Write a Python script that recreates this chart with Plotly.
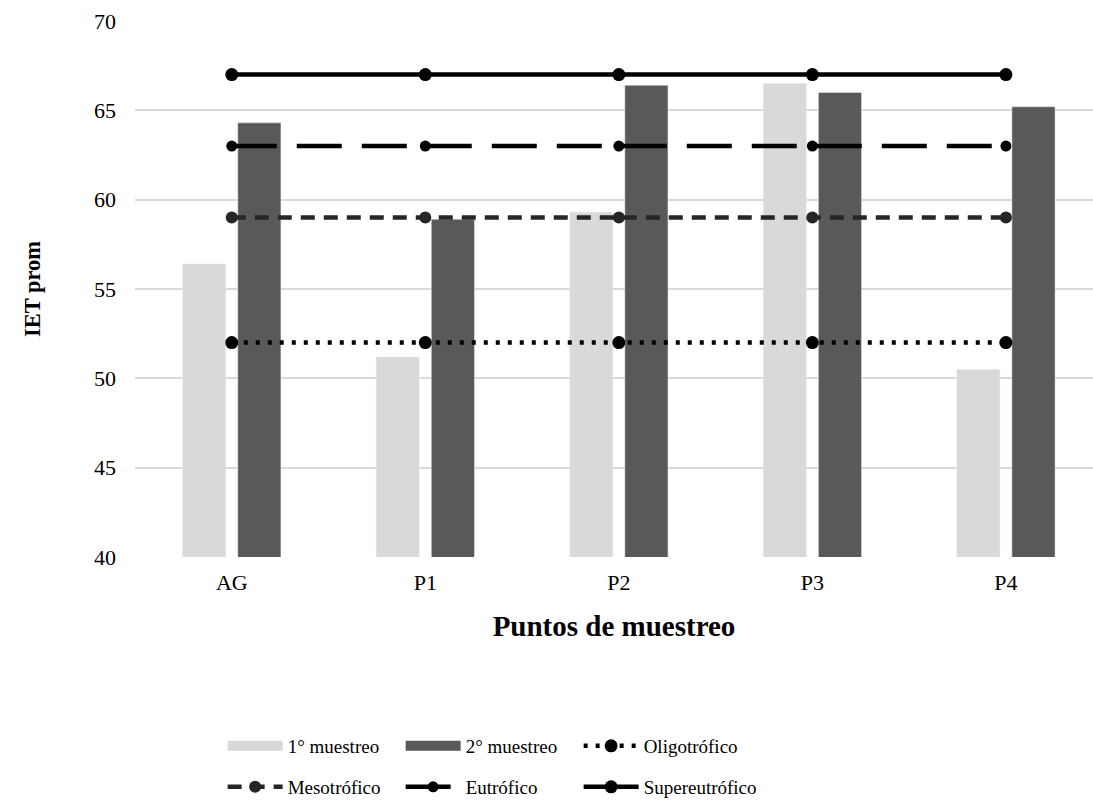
import plotly.graph_objects as go

categories = ["AG", "P1", "P2", "P3", "P4"]
muestreo1 = [56.4, 51.2, 59.3, 66.5, 50.5]
muestreo2 = [64.3, 58.9, 66.4, 66.0, 65.2]
oligotrofico = [52, 52, 52, 52, 52]
mesotrofico = [59, 59, 59, 59, 59]
eutrofico = [63, 63, 63, 63, 63]
supereutrofico = [67, 67, 67, 67, 67]

FONT = "Liberation Serif"
LIGHT = "#d9d9d9"
DARK = "#595959"

fig = go.Figure()
fig.add_trace(go.Bar(x=categories, y=muestreo1, name="1° muestreo", marker_color=LIGHT,
                     showlegend=False))
fig.add_trace(go.Bar(x=categories, y=muestreo2, name="2° muestreo", marker_color=DARK,
                     showlegend=False))

# legend stand-ins for bars (wide rectangles)
fig.add_trace(go.Scatter(x=[None], y=[None], mode="lines", name="1° muestreo",
                         line=dict(color=LIGHT, width=10), legend="legend"))
fig.add_trace(go.Scatter(x=[None], y=[None], mode="lines", name="2° muestreo",
                         line=dict(color=DARK, width=10), legend="legend"))

fig.add_trace(go.Scatter(x=categories, y=oligotrofico, name="Oligotrófico", mode="lines+markers",
                         line=dict(color="#000000", width=4.5, dash="4px,8px"),
                         marker=dict(size=13, color="#000000"), legend="legend"))
fig.add_trace(go.Scatter(x=categories, y=mesotrofico, name="Mesotrófico", mode="lines+markers",
                         line=dict(color="#262626", width=4.5, dash="14px,9px"),
                         marker=dict(size=12, color="#262626"), legend="legend2"))
fig.add_trace(go.Scatter(x=categories, y=eutrofico, name="Eutrófico", mode="lines+markers",
                         line=dict(color="#000000", width=4.5, dash="45px,20px"),
                         marker=dict(size=11, color="#000000"), legend="legend2"))
fig.add_trace(go.Scatter(x=categories, y=supereutrofico, name="Supereutrófico", mode="lines+markers",
                         line=dict(color="#000000", width=4.5),
                         marker=dict(size=13, color="#000000"), legend="legend2"))

legend_common = dict(orientation="h", xanchor="left", yanchor="middle",
                     xref="container", yref="container",
                     font=dict(family=FONT, size=19, color="#000000"),
                     entrywidth=108, entrywidthmode="pixels", itemwidth=55,
                     bgcolor="rgba(0,0,0,0)", traceorder="normal")

fig.update_layout(
    width=1093, height=803,
    margin=dict(l=135, r=0, t=21, b=246, autoexpand=False),
    paper_bgcolor="white", plot_bgcolor="white",
    font=dict(family=FONT, color="#000000"),
    barmode="group", bargap=0.43, bargroupgap=0.218,
    legend=dict(x=0.2037, y=1 - 746 / 803, **legend_common),
    legend2=dict(x=0.2037, y=1 - 787 / 803, **legend_common),
    xaxis=dict(range=[-0.5, 4.45], showgrid=False, showline=False, ticks="", automargin=False,
               ticklabelstandoff=10,
               tickfont=dict(family=FONT, size=22, color="#000000"),
               title=dict(text="<b>Puntos de muestreo</b>", font=dict(family=FONT, size=29, color="#000000"),
                          standoff=21)),
    yaxis=dict(range=[40, 70], dtick=5, showgrid=True, gridcolor=LIGHT, gridwidth=2, automargin=False,
               zeroline=False, showline=False, ticks="", ticklabelstandoff=18,
               tickfont=dict(family=FONT, size=22, color="#000000"),
               title=dict(text="<b>IET prom</b>", font=dict(family=FONT, size=22.5, color="#000000"),
                          standoff=47)),
)

fig.write_html("out.html", config={"displayModeBar": False},
               post_script="document.body.style.margin='0px';")
